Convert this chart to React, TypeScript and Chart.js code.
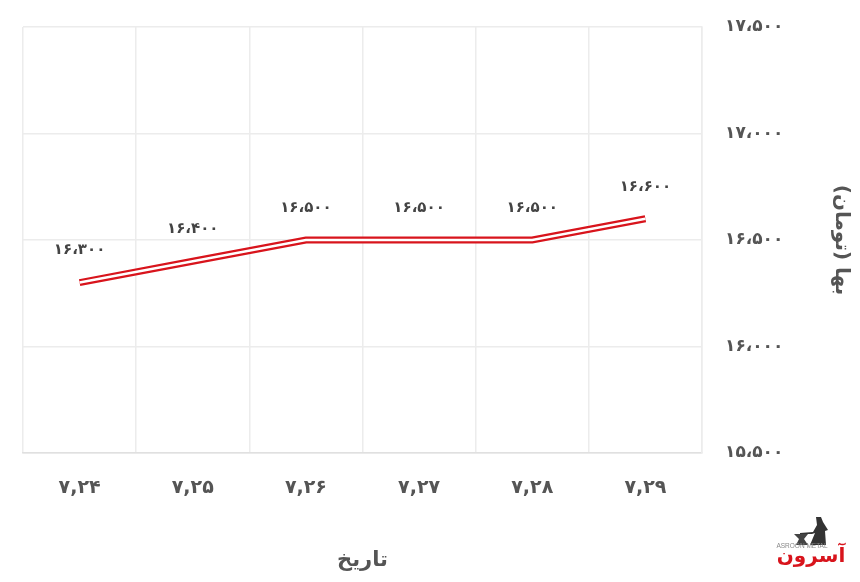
import React, { useEffect, useRef } from "react";
import { Chart, registerables } from "chart.js";

Chart.register(...registerables);

const categories = ["۷,۲۴", "۷,۲۵", "۷,۲۶", "۷,۲۷", "۷,۲۸", "۷,۲۹"];
const prices = [16300, 16400, 16500, 16500, 16500, 16600];
const priceLabels = ["۱۶،۳۰۰", "۱۶،۴۰۰", "۱۶،۵۰۰", "۱۶،۵۰۰", "۱۶،۵۰۰", "۱۶،۶۰۰"];
const yTickLabels = ["۱۵،۵۰۰", "۱۶،۰۰۰", "۱۶،۵۰۰", "۱۷،۰۰۰", "۱۷،۵۰۰"];
const xTitle = "تاریخ";
const yTitle = "بها (تومان)";
const FONT = "'DejaVu Sans', 'Noto Sans', sans-serif";

const valueLabels = {
  id: "valueLabels",
  afterDatasetsDraw(chart: any) {
    const meta = chart.getDatasetMeta(0);
    const ctx = chart.ctx;
    ctx.save();
    ctx.font = `bold 15px ${FONT}`;
    ctx.fillStyle = "#444444";
    ctx.textAlign = "center";
    ctx.textBaseline = "middle";
    meta.data.forEach((pt: any, i: number) => {
      ctx.fillText(priceLabels[i], pt.x, pt.y - 32);
    });
    ctx.restore();
  },
};

export default function App() {
  const ref = useRef<HTMLCanvasElement>(null);
  useEffect(() => {
    document.body.style.margin = "0";
    const chart = new Chart(ref.current!, {
      type: "line",
      data: {
        labels: categories,
        datasets: [
          { data: prices, order: 2, borderColor: "#d8141c", borderWidth: 7, pointRadius: 0, tension: 0, borderCapStyle: "butt", borderJoinStyle: "miter" },
          { data: prices, order: 1, borderColor: "#ffffff", borderWidth: 2.5, pointRadius: 0, tension: 0, borderCapStyle: "butt", borderJoinStyle: "miter" },
        ],
      },
      options: {
        responsive: false,
        animation: false,
        devicePixelRatio: 1,
        layout: { padding: { left: 23, top: 27, right: 0, bottom: 0 } },
        plugins: { legend: { display: false }, tooltip: { enabled: false } },
        scales: {
          x: {
            offset: true,
            grid: { color: "#ececec", lineWidth: 1.5, drawTicks: false, offset: true },
            border: { color: "#e0e0e0", width: 1.5 },
            ticks: { font: { size: 19, weight: "bold", family: FONT }, color: "#555555", padding: 24, maxRotation: 0 },
            title: { display: true, text: xTitle, font: { size: 21, weight: "bold", family: FONT }, color: "#555555", padding: { top: 0, bottom: 9 } },
            afterFit(s: any) { s.height = 129; },
          },
          y: {
            position: "right",
            min: 15500,
            max: 17500,
            grid: { color: "#ececec", lineWidth: 1.5, drawTicks: true, tickLength: 23, tickColor: "transparent" },
            border: { color: "#ececec", width: 1.5 },
            ticks: {
              stepSize: 500,
              font: { size: 17, weight: "bold", family: FONT },
              color: "#555555",
              padding: 0,
              crossAlign: "near",
              callback: (_v: any, i: number) => yTickLabels[i],
            },
            title: { display: true, text: yTitle, font: { size: 20, weight: "bold", family: FONT }, color: "#555555", padding: { top: 7, bottom: 0 } },
            afterFit(s: any) { s.width = 158; },
          },
        },
      } as any,
      plugins: [valueLabels],
    });
    return () => chart.destroy();
  }, []);
  return (
    <div style={{ position: "relative", width: 860, height: 582, background: "#fff", overflow: "hidden" }}>
      <canvas ref={ref} width={860} height={582} style={{ display: "block" }} />
      <svg width="70" height="56" viewBox="0 0 70 56" style={{ position: "absolute", left: 776, top: 514, overflow: "visible" }}>
        <path d="M18 20h14l-4 5 4 6H20l3-6z" fill="#444" />
        <path d="M40 3l5 0 2 5 5 8-3 1 1 14H34l5-12-3 1-12 0v-1l13-1 4-7z" fill="#333" />
        <text x="26" y="34" textAnchor="middle" fontSize="6.5" fill="#888" fontFamily="'Liberation Sans'">ASROON METAL</text>
        <text x="35" y="48" textAnchor="middle" fontSize="20" fontWeight="bold" fill="#d8141c" fontFamily={FONT}>آسرون</text>
      </svg>
    </div>
  );
}
